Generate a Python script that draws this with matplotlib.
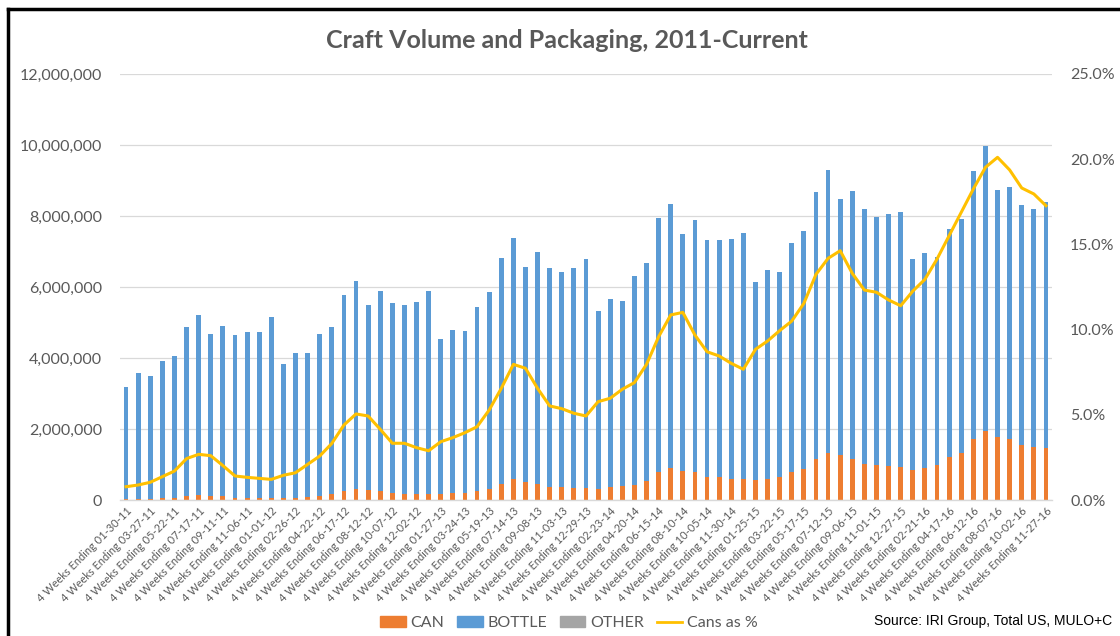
import matplotlib
matplotlib.use("Agg")
import matplotlib.pyplot as plt
from matplotlib.lines import Line2D
from matplotlib.patches import Patch
from matplotlib.ticker import FuncFormatter, MultipleLocator
import numpy as np

plt.rcParams['font.family'] = ['Lato', 'DejaVu Sans']

# shown tick labels (every other 4-week period)
tick_labels = [
    '01-30-11', '03-27-11', '05-22-11', '07-17-11', '09-11-11', '11-06-11',
    '01-01-12', '02-26-12', '04-22-12', '06-17-12', '08-12-12', '10-07-12',
    '12-02-12', '01-27-13', '03-24-13', '05-19-13', '07-14-13', '09-08-13',
    '11-03-13', '12-29-13', '02-23-14', '04-20-14', '06-15-14', '08-10-14',
    '10-05-14', '11-30-14', '01-25-15', '03-22-15', '05-17-15', '07-12-15',
    '09-06-15', '11-01-15', '12-27-15', '02-21-16', '04-17-16', '06-12-16',
    '08-07-16', '10-02-16', '11-27-16',
]

# total stacked height per period (millions)
bar_tops = [
    3.19, 3.59, 3.49, 3.92, 4.06, 4.86, 5.20, 4.69, 4.91, 4.64,
    4.73, 4.73, 5.15, 3.83, 4.15, 4.15, 4.67, 4.86, 5.77, 6.16,
    5.50, 5.89, 5.54, 5.50, 5.57, 5.89, 4.54, 4.78, 4.76, 5.43,
    5.87, 6.83, 7.38, 6.55, 6.99, 6.53, 6.43, 6.53, 6.78, 5.33,
    5.67, 5.60, 6.31, 6.68, 7.94, 8.34, 7.48, 7.88, 7.33, 7.31,
    7.36, 7.53, 6.14, 6.48, 6.41, 7.24, 7.58, 8.69, 9.30, 8.49,
    8.70, 8.21, 7.98, 8.05, 8.12, 6.80, 6.95, 6.85, 7.63, 7.92,
    9.28, 9.98, 8.73, 8.83, 8.32, 8.20, 8.39,
]

# can volume (millions)
can = [
    0.025, 0.032, 0.036, 0.054, 0.069, 0.118, 0.139, 0.122, 0.099, 0.065,
    0.063, 0.060, 0.062, 0.056, 0.066, 0.087, 0.120, 0.161, 0.254, 0.311,
    0.271, 0.244, 0.184, 0.183, 0.171, 0.170, 0.16, 0.19, 0.19, 0.24,
    0.31, 0.46, 0.60, 0.51, 0.46, 0.36, 0.36, 0.34, 0.34, 0.31,
    0.36, 0.39, 0.43, 0.53, 0.78, 0.90, 0.83, 0.78, 0.66, 0.64,
    0.60, 0.58, 0.55, 0.60, 0.64, 0.78, 0.87, 1.15, 1.33, 1.26,
    1.16, 1.02, 0.98, 0.95, 0.92, 0.85, 0.91, 0.98, 1.20, 1.33,
    1.71, 1.94, 1.77, 1.73, 1.54, 1.48, 1.46,
]

# cans as % of volume
cans_pct = [
    0.78, 0.88, 1.04, 1.37, 1.70, 2.43, 2.68, 2.60, 2.02, 1.41,
    1.33, 1.27, 1.21, 1.45, 1.60, 2.09, 2.58, 3.32, 4.40, 5.05,
    4.93, 4.15, 3.33, 3.33, 3.07, 2.89, 3.42, 3.66, 3.95, 4.30,
    5.28, 6.55, 7.96, 7.73, 6.55, 5.52, 5.36, 5.09, 4.93, 5.77,
    5.97, 6.50, 6.89, 7.96, 9.58, 10.86, 11.01, 9.68, 8.70, 8.45,
    8.02, 7.67, 8.84, 9.33, 9.94, 10.50, 11.54, 13.24, 14.18, 14.63,
    13.30, 12.32, 12.19, 11.74, 11.40, 12.26, 12.95, 14.14, 15.51, 16.88,
    18.25, 19.52, 20.11, 19.37, 18.31, 17.96, 17.27,
]

c_can = '#ED7D31'
c_bottle = '#5B9BD5'
c_other = '#A5A5A5'
c_line = '#FFC000'
c_text = '#595959'
c_grid = '#D9D9D9'

n = len(bar_tops)
x = np.arange(n)
can_v = np.array(can) * 1e6
other_v = np.zeros(n)
bottle_v = np.array(bar_tops) * 1e6 - can_v - other_v

fig = plt.figure(figsize=(11.2, 6.36), dpi=100)
ax = fig.add_axes([120 / 1120, 136 / 636, 932 / 1120, 426 / 636])

w = 0.4
ax.bar(x, can_v, w, color=c_can, zorder=2)
ax.bar(x, bottle_v, w, bottom=can_v, color=c_bottle, zorder=2)
ax.bar(x, other_v, w, bottom=can_v + bottle_v, color=c_other, zorder=2)

ax.set_xlim(-0.5, n - 0.5)
ax.set_ylim(0, 12e6)
ax.yaxis.set_major_locator(MultipleLocator(2e6))
ax.yaxis.set_major_formatter(FuncFormatter(lambda v, p: f'{int(v):,}'))
ax.grid(axis='y', color=c_grid, lw=0.9, zorder=0)
ax.set_axisbelow(True)
for s in ['top', 'right', 'left']:
    ax.spines[s].set_visible(False)
ax.spines['bottom'].set_color(c_grid)
ax.spines['bottom'].set_linewidth(1.0)
ax.tick_params(axis='y', length=0, pad=13, labelsize=11.5, labelcolor=c_text)
ax.set_xticks(x[::2])
ax.set_xticklabels(['4 Weeks Ending ' + t for t in tick_labels], rotation=45,
                   ha='right', va='top', rotation_mode='anchor',
                   fontsize=7.9, color=c_text)
ax.tick_params(axis='x', length=0, pad=4)

ax2 = ax.twinx()
ax2.plot(x, cans_pct, color=c_line, lw=2.2, zorder=3)
ax2.set_ylim(0, 25)
ax2.yaxis.set_major_locator(MultipleLocator(5))
ax2.yaxis.set_major_formatter(FuncFormatter(lambda v, p: f'{v:.1f}%'))
for s in ['top', 'right', 'left', 'bottom']:
    ax2.spines[s].set_visible(False)
ax2.tick_params(axis='y', length=0, pad=13, labelsize=11.5, labelcolor=c_text)

fig.text(567 / 1120, 1 - 40 / 636, 'Craft Volume and Packaging, 2011-Current',
         ha='center', va='center', fontsize=18, fontweight='bold', color=c_text)

handles = [Patch(color=c_can, label='CAN'),
           Patch(color=c_bottle, label='BOTTLE'),
           Patch(color=c_other, label='OTHER'),
           Line2D([], [], color=c_line, lw=2, label='Cans as %')]
leg = fig.legend(handles=handles, loc='center', bbox_to_anchor=(569 / 1120, 13 / 636),
                 ncol=4, frameon=False, fontsize=11.5, handlelength=1.6,
                 handleheight=0.7, columnspacing=0.8, handletextpad=0.3)
for t in leg.get_texts():
    t.set_color(c_text)

fig.text(1112 / 1120, 15 / 636, 'Source: IRI Group, Total US, MULO+C',
         ha='right', va='center', fontsize=10, color='black',
         family=['Liberation Sans', 'DejaVu Sans'])

# frame edges of the original screenshot
fig.add_artist(Line2D([8 / 1120, 1], [1 - 9 / 636] * 2, transform=fig.transFigure,
                      color='black', lw=2.5))
fig.add_artist(Line2D([8 / 1120] * 2, [0, 1 - 9 / 636], transform=fig.transFigure,
                      color='black', lw=2.5))

fig.savefig('out.png', dpi=100)
